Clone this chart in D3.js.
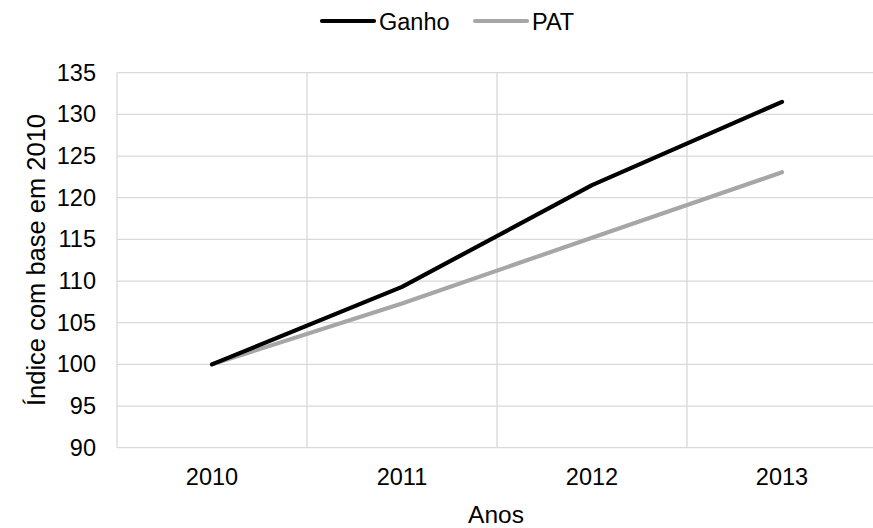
<!DOCTYPE html>
<html>
<head>
<meta charset="utf-8">
<script src="https://cdn.jsdelivr.net/npm/d3@7"></script>
<style>
  html, body { margin: 0; padding: 0; background: #fff; }
  svg { display: block; font-family: "Liberation Sans", Arial, sans-serif; }
</style>
</head>
<body>
<svg id="chart" width="873" height="528"></svg>
<script>
// Index series, base year 2010 = 100
const years = ["2010", "2011", "2012", "2013"];
const ganho = [100, 109.3, 121.5, 131.5];
const pat = [100, 107.3, 115.2, 123.05];
const yTicks = [90, 95, 100, 105, 110, 115, 120, 125, 130, 135];

const svg = d3.select("#chart");
const plotLeft = 117, plotRight = 877, plotTop = 72.7, plotBottom = 447.7;
const fontSize = 23.5;

const x = d3.scaleBand().domain(years).range([plotLeft, plotRight]).paddingInner(0).paddingOuter(0);
const y = d3.scaleLinear().domain([90, 135]).range([plotBottom, plotTop]);
const cx = d => x(d) + x.bandwidth() / 2;

const grid = "#d9d9d9";

// horizontal gridlines
svg.append("g").selectAll("line").data(yTicks).join("line")
  .attr("x1", plotLeft).attr("x2", plotRight)
  .attr("y1", d => y(d)).attr("y2", d => y(d))
  .attr("stroke", grid).attr("stroke-width", 1.3);

// vertical gridlines at category boundaries
const bounds = years.map(d => x(d)).concat([plotRight]);
svg.append("g").selectAll("line").data(bounds).join("line")
  .attr("x1", d => d).attr("x2", d => d)
  .attr("y1", plotTop).attr("y2", plotBottom)
  .attr("stroke", grid).attr("stroke-width", 1.3);

// y axis labels
const yAxis = d3.axisLeft(y).tickValues(yTicks).tickSize(0).tickPadding(0);
const yg = svg.append("g").attr("transform", `translate(${plotLeft - 21},0)`).call(yAxis);
yg.select(".domain").remove();
yg.selectAll("text").attr("font-size", fontSize).attr("fill", "#000")
  .attr("font-family", "Liberation Sans, Arial, sans-serif");

// x axis labels
const xAxis = d3.axisBottom(x).tickSize(0).tickPadding(0);
const xg = svg.append("g").attr("transform", `translate(0,${plotBottom + 21})`).call(xAxis);
xg.select(".domain").remove();
xg.selectAll("text").attr("font-size", fontSize).attr("fill", "#000")
  .attr("font-family", "Liberation Sans, Arial, sans-serif");

// axis titles
svg.append("text").attr("x", 496).attr("y", 523).attr("text-anchor", "middle")
  .attr("font-size", 24.5).attr("fill", "#000").text("Anos");
svg.append("text").attr("transform", "translate(45,260) rotate(-90)")
  .attr("text-anchor", "middle").attr("font-size", 25.5).attr("fill", "#000")
  .text("Índice com base em 2010");

// series lines
const line = d3.line().x((d, i) => cx(years[i])).y(d => y(d));
const series = [
  { name: "PAT", values: pat, color: "#a6a6a6" },
  { name: "Ganho", values: ganho, color: "#000000" }
];
svg.append("g").selectAll("path").data(series).join("path")
  .attr("d", d => line(d.values))
  .attr("fill", "none").attr("stroke", d => d.color)
  .attr("stroke-width", 4.2).attr("stroke-linecap", "round").attr("stroke-linejoin", "round");

// legend
const legend = [
  { name: "Ganho", color: "#000000", x: 322 },
  { name: "PAT", color: "#a6a6a6", x: 475 }
];
const lg = svg.append("g").selectAll("g").data(legend).join("g")
  .attr("transform", d => `translate(${d.x},21)`);
lg.append("line").attr("x1", 0).attr("x2", 52).attr("y1", 0).attr("y2", 0)
  .attr("stroke", d => d.color).attr("stroke-width", 4.2).attr("stroke-linecap", "round");
lg.append("text").attr("x", 57).attr("y", 8.5).attr("font-size", fontSize).attr("fill", "#000")
  .text(d => d.name);
</script>
</body>
</html>
